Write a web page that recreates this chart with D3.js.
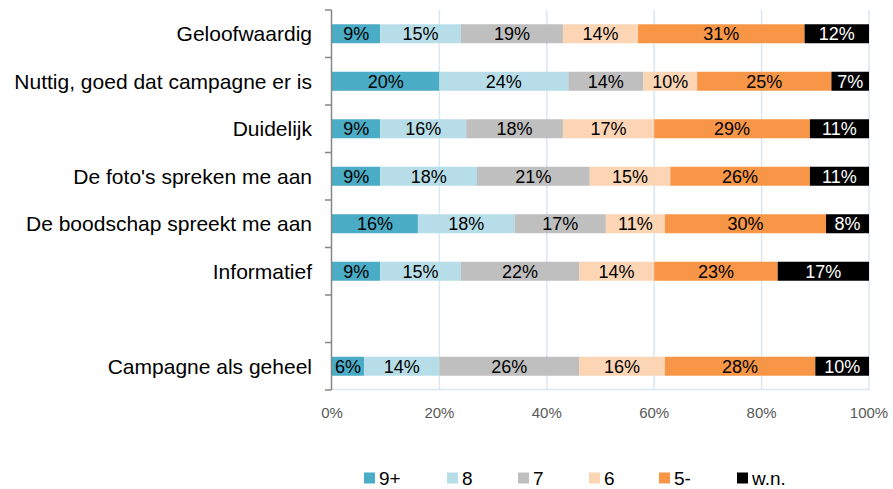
<!DOCTYPE html>
<html>
<head>
<meta charset="utf-8">
<script src="https://cdn.jsdelivr.net/npm/d3@7"></script>
<style>
  body { margin: 0; background: #fff; }
  text { font-family: "Liberation Sans", Arial, sans-serif; }
</style>
</head>
<body>
<div class="chart"></div>
<script>
// Stacked 100% bar chart of campaign ratings

var categories = [
  'Geloofwaardig',
  'Nuttig, goed dat campagne er is',
  'Duidelijk',
  "De foto's spreken me aan",
  'De boodschap spreekt me aan',
  'Informatief',
  '',
  'Campagne als geheel'
];

var seriesNames = ['9+', '8', '7', '6', '5-', 'w.n.'];

// one array per series, one value per category (percent)
var s9plus = [9, 20, 9, 9, 16, 9, null, 6];
var s8     = [15, 24, 16, 18, 18, 15, null, 14];
var s7     = [19, 14, 18, 21, 17, 22, null, 26];
var s6     = [14, 10, 17, 15, 11, 14, null, 16];
var s5min  = [31, 25, 29, 26, 30, 23, null, 28];
var swn    = [12, 7, 11, 11, 8, 17, null, 10];

var xTicks = [0, 20, 40, 60, 80, 100];

var colors = ['#4bacc6', '#b7dee8', '#bfbfbf', '#fcd5b5', '#f79646', '#000000'];
var labelColors = ['#000', '#000', '#000', '#000', '#000', '#fff'];

var width = 893, height = 489;
var plotLeft = 332, plotRight = 869, plotTop = 10, plotBottom = 390;

var svg = d3.select('.chart').append('svg')
  .attr('width', width)
  .attr('height', height);

var x = d3.scaleLinear().domain([0, 100]).range([plotLeft, plotRight]);
var band = d3.scaleBand().domain(d3.range(categories.length)).range([plotTop, plotBottom]);
var y = d3.scaleBand().domain(d3.range(categories.length)).range([plotTop, plotBottom])
  .paddingInner(0.6).paddingOuter(0.3);

// gridlines
svg.append('g')
  .selectAll('line')
  .data(xTicks.slice(1))
  .enter().append('line')
    .attr('x1', function(d) { return x(d); })
    .attr('x2', function(d) { return x(d); })
    .attr('y1', plotTop)
    .attr('y2', plotBottom)
    .attr('stroke', '#dce6f2')
    .attr('stroke-width', 1.5);

// horizontal baseline (light, like the gridlines)
svg.append('line')
  .attr('x1', plotLeft).attr('x2', plotRight)
  .attr('y1', plotBottom - 0.5).attr('y2', plotBottom - 0.5)
  .attr('stroke', '#dce6f2')
  .attr('stroke-width', 1.5);

// stack the data
var rows = categories.map(function(c, i) {
  return { cat: i, values: [s9plus[i], s8[i], s7[i], s6[i], s5min[i], swn[i]] };
}).filter(function(r) { return r.values[0] !== null; });

var segs = [];
rows.forEach(function(r) {
  var acc = 0;
  r.values.forEach(function(v, k) {
    segs.push({ cat: r.cat, k: k, x0: acc, x1: acc + v, v: v });
    acc += v;
  });
});

svg.append('g')
  .selectAll('rect')
  .data(segs)
  .enter().append('rect')
    .attr('x', function(d) { return x(d.x0); })
    .attr('width', function(d) { return x(d.x1) - x(d.x0); })
    .attr('y', function(d) { return y(d.cat); })
    .attr('height', y.bandwidth())
    .attr('fill', function(d) { return colors[d.k]; });

svg.append('g')
  .selectAll('text')
  .data(segs)
  .enter().append('text')
    .attr('x', function(d) { return (x(d.x0) + x(d.x1)) / 2; })
    .attr('y', function(d) { return y(d.cat) + y.bandwidth() / 2; })
    .attr('dy', '0.36em')
    .attr('text-anchor', 'middle')
    .attr('font-size', 18)
    .attr('fill', function(d) { return labelColors[d.k]; })
    .text(function(d) { return d.v + '%'; });

// vertical category axis with ticks on band edges
var axisG = svg.append('g');
axisG.append('line')
  .attr('x1', plotLeft - 0.5).attr('x2', plotLeft - 0.5)
  .attr('y1', plotTop).attr('y2', plotBottom)
  .attr('stroke', '#868686')
  .attr('stroke-width', 1.5);
axisG.selectAll('line.tick')
  .data(d3.range(categories.length + 1))
  .enter().append('line')
    .attr('class', 'tick')
    .attr('x1', plotLeft - 7).attr('x2', plotLeft - 0.5)
    .attr('y1', function(i) { return plotTop + i * band.bandwidth(); })
    .attr('y2', function(i) { return plotTop + i * band.bandwidth(); })
    .attr('stroke', '#868686')
    .attr('stroke-width', 1.5);
axisG.selectAll('text')
  .data(categories)
  .enter().append('text')
    .attr('x', 312)
    .attr('y', function(d, i) { return band(i) + band.bandwidth() / 2; })
    .attr('dy', '0.36em')
    .attr('text-anchor', 'end')
    .attr('font-size', 21)
    .attr('fill', '#000')
    .text(function(d) { return d; });

// x axis labels
svg.append('g')
  .selectAll('text')
  .data(xTicks)
  .enter().append('text')
    .attr('x', function(d) { return x(d); })
    .attr('y', 413)
    .attr('dy', '0.36em')
    .attr('text-anchor', 'middle')
    .attr('font-size', 15)
    .attr('fill', '#595959')
    .text(function(d) { return d + '%'; });

// legend
var legendX = [364, 447, 518, 589, 659, 737];
var legend = svg.append('g')
  .selectAll('g')
  .data(seriesNames)
  .enter().append('g')
    .attr('transform', function(d, i) { return 'translate(' + legendX[i] + ',478)'; });
legend.append('rect')
  .attr('x', 0).attr('y', -5.5)
  .attr('width', 11).attr('height', 11)
  .attr('fill', function(d, i) { return colors[i]; });
legend.append('text')
  .attr('x', 15).attr('y', 0)
  .attr('dy', '0.36em')
  .attr('font-size', 19)
  .attr('fill', '#000')
  .text(function(d) { return d; });
</script>
</body>
</html>
